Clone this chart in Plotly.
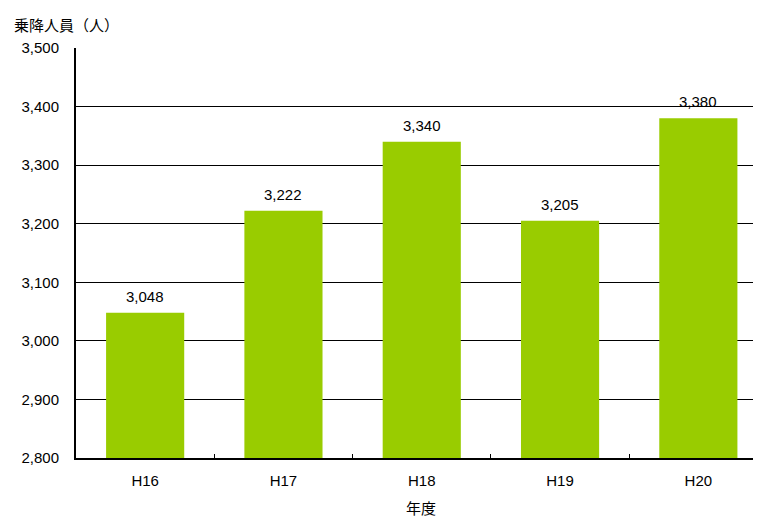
import plotly.graph_objects as go

categories = ["H16", "H17", "H18", "H19", "H20"]
values = [3048, 3222, 3340, 3205, 3380]
y_ticks = [2800, 2900, 3000, 3100, 3200, 3300, 3400, 3500]
y_title = "乗降人員（人）"
x_title = "年度"

FONT = "Liberation Sans, Arial, Noto Sans CJK JP, sans-serif"
CJK = "Noto Sans CJK JP, sans-serif"

fig = go.Figure(go.Bar(
    x=categories, y=values,
    marker=dict(color="#99CC00", line=dict(width=0)),
    width=0.565,
    hoverinfo="x+y",
))

label_annotations = [
    dict(x=c, y=v, xref="x", yref="y", text=f"{v:,}", showarrow=False,
         xanchor="center", yanchor="bottom", yshift=6,
         font=dict(size=15, color="#000000", family=FONT))
    for c, v in zip(categories, values)
]

PW, PH = 685, 410  # plot area size in px

fig.update_layout(
    width=753, height=511,
    margin=dict(l=68, r=0, t=40, b=61, pad=0),
    plot_bgcolor="white", paper_bgcolor="white",
    font=dict(family=FONT, size=15, color="#000000"),
    showlegend=False,
    xaxis=dict(
        range=[-0.5, 4.453], tickson="boundaries",
        ticks="inside", ticklen=4, tickcolor="#000000", tickwidth=1,
        showline=True, linecolor="#000000", linewidth=2,
        showgrid=False, tickfont=dict(size=15, family=FONT),
        ticklabelstandoff=8,
    ),
    yaxis=dict(
        range=[2800, 3500], tickvals=y_ticks,
        tickformat=",", showline=True, linecolor="#000000", linewidth=2,
        showgrid=True, gridcolor="#000000", gridwidth=1,
        ticks="", tickfont=dict(size=15, family=FONT),
        ticklabelstandoff=12,
        zeroline=False,
    ),
    annotations=label_annotations + [
        dict(text=y_title, xref="paper", yref="paper", x=(12 - 76) / PW, y=(458 - 25) / PH,
             xanchor="left", yanchor="middle", showarrow=False,
             font=dict(size=15, family=CJK)),
        dict(text=x_title, xref="paper", yref="paper", x=(421 - 76) / PW, y=(458 - 507) / PH,
             xanchor="center", yanchor="middle", showarrow=False,
             font=dict(size=15, family=CJK)),
    ],
)

fig.write_html("out.html")
